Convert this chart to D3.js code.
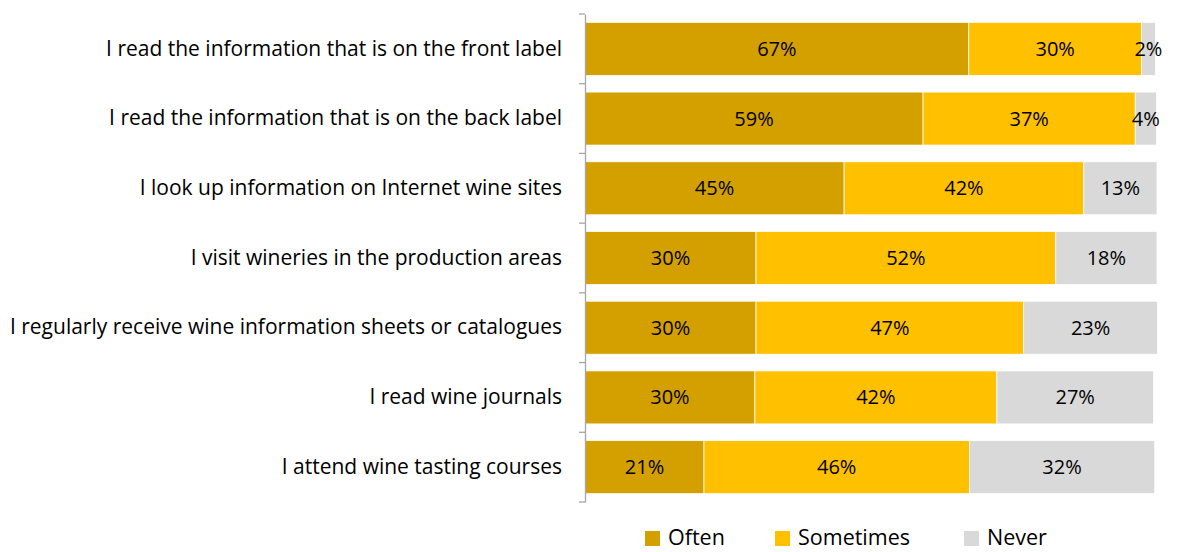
<!DOCTYPE html>
<html>
<head>
<meta charset="utf-8">
<script src="https://cdn.jsdelivr.net/npm/d3@7"></script>
<style>
  body { margin: 0; background: #fff; }
  text { font-family: "Open Sans", Lato, sans-serif; fill: #000; }
</style>
</head>
<body>
<div id="chart"></div>
<script>
// statements (top to bottom)
var statements = [
    "I read the information that is on the front label",
    "I read the information that is on the back label",
    "I look up information on Internet wine sites",
    "I visit wineries in the production areas",
    "I regularly receive wine information sheets or catalogues",
    "I read wine journals",
    "I attend wine tasting courses"
];
// shares in percent
var often     = [67.1, 59.1, 45.3, 29.9, 29.9, 29.7, 20.8];
var sometimes = [30.2, 37.1, 41.9, 52.4, 46.8, 42.3, 46.4];
var never     = [2.4, 3.7, 12.8, 17.7, 23.4, 27.4, 32.4];

var seriesNames = ["Often", "Sometimes", "Never"];
var seriesColors = ["#D4A000", "#FFC000", "#D9D9D9"];

var svgWidth = 1186;
var svgHeight = 552;

var svg = d3.select("#chart")
    .append("svg")
    .attr("width", svgWidth)
    .attr("height", svgHeight);

// build rows for the stack
var rows = statements.map(function(s, i) {
    return { label: s, Often: often[i], Sometimes: sometimes[i], Never: never[i] };
});

var stack = d3.stack().keys(seriesNames);
var layers = stack(rows);

var x = d3.scaleLinear()
    .domain([0, 100])
    .range([585, 1157]);

var y = d3.scaleBand()
    .domain(statements)
    .range([14, 502])
    .paddingInner(0.24)
    .paddingOuter(0.12);

var color = d3.scaleOrdinal()
    .domain(seriesNames)
    .range(seriesColors);

// bars
var layerGroups = svg.selectAll("g.layer")
    .data(layers)
    .enter()
    .append("g")
    .attr("class", "layer")
    .attr("fill", d => color(d.key));

layerGroups.selectAll("rect")
    .data(d => d)
    .enter()
    .append("rect")
    .attr("x", d => x(d[0]))
    .attr("y", d => y(d.data.label))
    .attr("width", d => x(d[1]) - x(d[0]))
    .attr("height", y.bandwidth())
    .attr("stroke", "#fff")
    .attr("stroke-width", 0.75);

// value labels
layerGroups.selectAll("text")
    .data(d => d)
    .enter()
    .append("text")
    .attr("x", d => (x(d[0]) + x(d[1])) / 2)
    .attr("y", d => y(d.data.label) + y.bandwidth() / 2)
    .attr("dy", "0.35em")
    .attr("text-anchor", "middle")
    .style("font-size", "20px")
    .text(d => Math.round(d[1] - d[0]) + "%");

// category axis
var yAxis = svg.append("g")
    .attr("transform", "translate(585,0)")
    .call(d3.axisLeft(y).tickSize(0).tickPadding(23));

yAxis.select(".domain").attr("stroke", "#A6A6A6").attr("stroke-width", 1.3);
yAxis.selectAll(".tick text")
    .style("font-size", "21px")
    .style("font-family", "'Open Sans', Lato, sans-serif");

// tick marks between categories
var boundaries = statements.map(s => y(s) - y.step() * y.paddingInner() / 2);
boundaries[0] = y.range()[0];
boundaries.push(y.range()[1]);

svg.selectAll("line.cat-tick")
    .data(boundaries)
    .enter()
    .append("line")
    .attr("class", "cat-tick")
    .attr("x1", 579)
    .attr("x2", 585)
    .attr("y1", d => d)
    .attr("y2", d => d)
    .attr("stroke", "#A6A6A6")
    .attr("stroke-width", 1.3);

// legend
var legendX = [645, 775, 964];
var legend = svg.selectAll("g.legend")
    .data(seriesNames)
    .enter()
    .append("g")
    .attr("class", "legend")
    .attr("transform", (d, i) => "translate(" + legendX[i] + ",531)");

legend.append("rect")
    .attr("width", 15)
    .attr("height", 15)
    .attr("fill", d => color(d));

legend.append("text")
    .attr("x", 23)
    .attr("y", 14)
    .style("font-size", "21.5px")
    .text(d => d);
</script>
</body>
</html>
